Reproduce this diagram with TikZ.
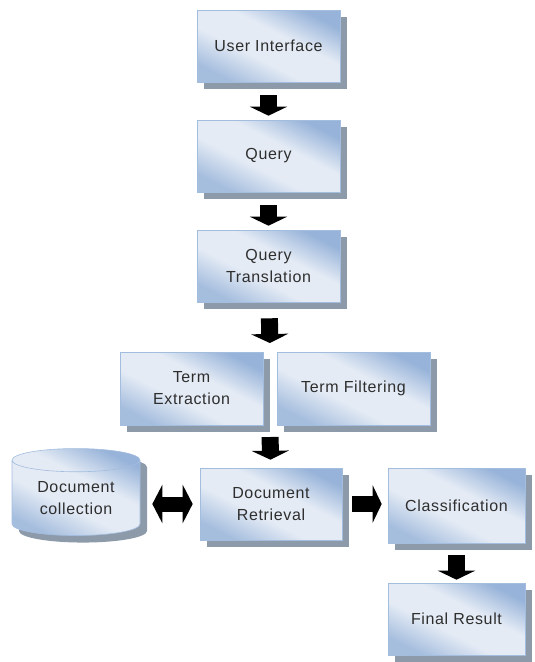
\documentclass[tikz,border=0pt]{standalone}
\usepackage{fontspec}
\setmainfont{Liberation Sans}[LetterSpace=4]
\usepackage{tikz}
\usetikzlibrary{arrows.meta}
\usetikzlibrary{shapes.geometric}
\usetikzlibrary{shadows}
\definecolor{boxtr}{HTML}{97B3D9}
\definecolor{boxmid}{HTML}{E4EBF5}
\definecolor{boxbl}{HTML}{A6BEDE}
\definecolor{boxline}{HTML}{A3BDDF}
\definecolor{shadowgray}{HTML}{8D9AA9}
\definecolor{labelgray}{HTML}{2E2E2E}
\pgfdeclarehorizontalshading{stagefill}{100bp}{color(0bp)=(boxbl); color(25bp)=(boxbl);
  color(42bp)=(boxmid); color(58bp)=(boxmid); color(75bp)=(boxtr); color(100bp)=(boxtr)}

\tikzset{
  stage/.style={draw=boxline, line width=0.6pt, shade, shading=stagefill, shading angle=63,
    text=labelgray, align=center, font=\fontsize{16}{22}\selectfont, inner sep=0pt,
    drop shadow={shadow xshift=7pt, shadow yshift=-7pt, fill=shadowgray, opacity=1}},
  store/.style={stage, cylinder, shape border rotate=90, aspect=0.3},
  flow/.style={line width=17pt, -{Triangle[length=9pt, width=37pt]}, shorten <=13pt, shorten >=4pt},
  flowboth/.style={line width=15pt, {Triangle[length=10pt, width=38pt]}-{Triangle[length=10pt, width=38pt]}, shorten <=12pt, shorten >=7pt}
}

\begin{document}
\begin{tikzpicture}[x=1pt, y=-1pt]
    \useasboundingbox (0, 0) rectangle (535, 662);

    \node [stage, minimum width=143pt, minimum height=72pt] (ui) at (268.5, 46) {User Interface};
    \node [stage, minimum width=143pt, minimum height=72pt] (query) at (268.5, 156) {Query};
    \node [stage, minimum width=143pt, minimum height=72pt] (qt) at (268.5, 266) {Query\\Translation};

    \node [stage, minimum width=143pt, minimum height=73pt] (te) at (191.5, 388.5) {Term\\Extraction};
    \node [stage, minimum width=153pt, minimum height=73pt] (tf) at (353.5, 388.5) {Term Filtering};
    \coordinate (terms top) at (270, 352);
    \coordinate (terms bottom) at (270, 425);

    \node [store, minimum width=128pt, minimum height=87pt] (docs) at (76, 498) {Document\\collection};
    \node [stage, minimum width=142pt, minimum height=72pt] (dr) at (271, 504) {Document\\Retrieval};
    \node [stage, minimum width=137pt, minimum height=75pt] (cls) at (456.5, 505.5) {Classification};
    \node [stage, minimum width=137pt, minimum height=72pt] (fr) at (456.5, 619) {Final Result};

    \draw [flow] (ui) -- (query);
    \draw [flow] (query) -- (qt);
    \draw [flow, shorten <=16pt, shorten >=9pt] (qt) -- (terms top);
    \draw [flow, shorten <=12pt, shorten >=8pt] (terms bottom) -- (dr);
    \draw [flowboth] (docs.east |- dr) -- (dr);
    \draw [flow, line width=16pt, shorten <=10pt, shorten >=6pt] (dr) -- (dr -| cls.west);
    \draw [flow, shorten <=12pt, shorten >=3pt] (cls) -- (fr);
\end{tikzpicture}
\end{document}
